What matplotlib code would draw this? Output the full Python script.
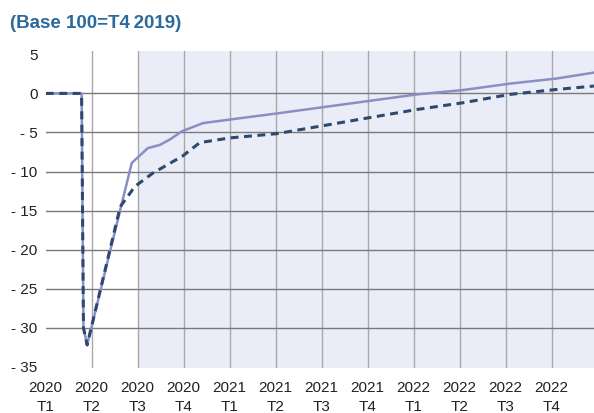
import numpy as np
import matplotlib
matplotlib.use("Agg")
import matplotlib.pyplot as plt

plt.rcParams['font.family'] = ['Liberation Sans', 'DejaVu Sans']

# quarter labels (0 = 2020 T1)
quarters = ['2020\nT1', '2020\nT2', '2020\nT3', '2020\nT4',
            '2021\nT1', '2021\nT2', '2021\nT3', '2021\nT4',
            '2022\nT1', '2022\nT2', '2022\nT3', '2022\nT4']

# solid series (position in quarters, value)
solid_x = [0, 0.78, 0.82, 0.90, 1.87, 2.22, 2.48, 2.70, 2.96, 3.42, 4.0,
           5.02, 6.61, 8.07, 9.07, 10.09, 11.1, 11.92]
solid_y = [0, 0, -30, -32.2, -8.9, -7.0, -6.6, -5.9, -4.85, -3.8, -3.35,
           -2.57, -1.3, -0.13, 0.43, 1.25, 1.9, 2.66]

# dashed series
dash_x = [0, 0.78, 0.82, 0.90, 1.62, 1.94, 2.33, 2.98, 3.35, 4.0, 5.03,
          6.6, 8.07, 9.07, 10.09, 11.1, 11.92]
dash_y = [0, 0, -30, -32.2, -14.5, -11.9, -10.2, -8.0, -6.3, -5.7, -5.15,
          -3.55, -2.06, -1.2, -0.13, 0.5, 0.94]

yticks = [5, 0, -5, -10, -15, -20, -25, -30, -35]
hgrid = [0, -5, -10, -15, -20, -25, -30]

fig = plt.figure(figsize=(5.94, 4.13), dpi=100)
ax = fig.add_axes([0.077, 0.108, 0.923, 0.768])

ax.axvspan(2, 11.92, color='#eaedf7', lw=0, zorder=0)
for q in range(1, len(quarters)):
    ax.axvline(q, color='#a8a8a8', lw=1.0, zorder=1)
for v in hgrid:
    ax.axhline(v, color='#7a7a7a', lw=1.0, zorder=1)

ax.plot(solid_x, solid_y, color='#8a8ec6', lw=1.8, zorder=3)
ax.plot(dash_x, dash_y, color='#2d4a6e', lw=2.2, dashes=(2.6, 1.8), zorder=4)

ax.set_xlim(0, 11.92)
ax.set_ylim(-35.2, 5.4)
ax.set_xticks(range(len(quarters)))
ax.set_xticklabels(quarters, fontsize=11, linespacing=1.45, color='#222222')
ax.set_yticks(yticks)
ax.set_yticklabels([str(v) if v >= 0 else '- ' + str(-v) for v in yticks],
                   fontsize=11, color='#222222')
ax.tick_params(length=0, pad=6)
ax.tick_params(axis='x', pad=9)
for s in ax.spines.values():
    s.set_visible(False)

fig.text(0.017, 0.944, '(Base 100=T4\u20092019)', fontsize=13.5, fontweight='bold',
         color='#2c6a9c', ha='left', va='center')

fig.savefig('out.png', dpi=100)
